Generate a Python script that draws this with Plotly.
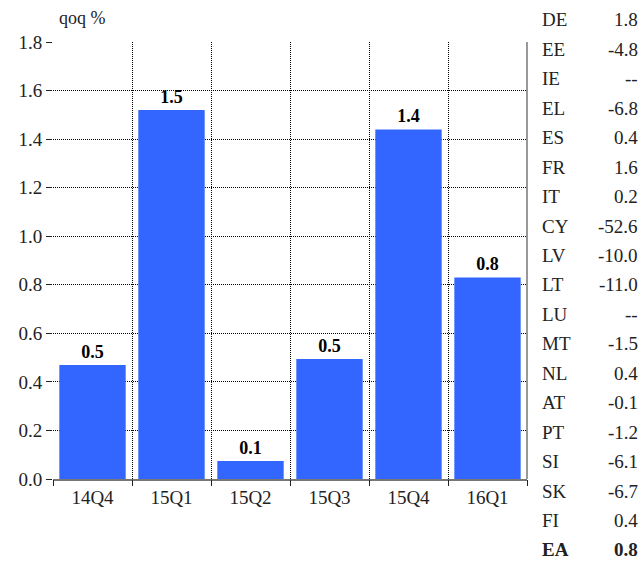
import plotly.graph_objects as go

# Quarterly GDP growth, quarter-on-quarter %
quarters = ["14Q4", "15Q1", "15Q2", "15Q3", "15Q4", "16Q1"]
growth = [0.47, 1.52, 0.074, 0.494, 1.44, 0.83]

# Latest figures by country
countries = ["DE", "EE", "IE", "EL", "ES", "FR", "IT", "CY", "LV", "LT",
             "LU", "MT", "NL", "AT", "PT", "SI", "SK", "FI", "EA"]
country_values = ["1.8", "-4.8", "--", "-6.8", "0.4", "1.6", "0.2", "-52.6", "-10.0",
                  "-11.0", "--", "-1.5", "0.4", "-0.1", "-1.2", "-6.1", "-6.7", "0.4", "0.8"]

y_ticks = [0.0, 0.2, 0.4, 0.6, 0.8, 1.0, 1.2, 1.4, 1.6, 1.8]

FONT = "Liberation Serif"
W, H = 643, 563
ML, MR, MT, MB = 53, 116, 42, 84
PW, PH = W - ML - MR, H - MT - MB

xs = list(range(len(quarters)))
bounds = [i - 0.5 for i in range(len(quarters) + 1)]

fig = go.Figure()
fig.add_trace(go.Bar(
    x=xs, y=growth,
    marker=dict(color="#3366FF", line=dict(width=0)),
    text=[f"{v:.1f}" for v in growth],
    texttemplate="<b>%{text}</b>",
    textposition="outside",
    textfont=dict(family=FONT, size=18, color="black"),
    cliponaxis=False,
    showlegend=False,
    hoverinfo="skip",
))
# invisible trace carrying the boundary grid axis
fig.add_trace(go.Scatter(x=[bounds[0], bounds[-1]], y=[0, 0], xaxis="x2",
                         mode="lines", line=dict(width=0), showlegend=False,
                         hoverinfo="skip"))

fig.update_layout(
    width=W, height=H,
    margin=dict(l=ML, r=MR, t=MT, b=MB, autoexpand=False),
    paper_bgcolor="white", plot_bgcolor="white",
    bargap=0.16,
    font=dict(family=FONT, size=18, color="#222"),
    xaxis=dict(
        range=[bounds[0], bounds[-1]],
        tickvals=xs, ticktext=quarters,
        showgrid=False, zeroline=False, automargin=False,
        showline=True, linecolor="#777", linewidth=1.5,
        ticks="", tickfont=dict(family=FONT, size=19, color="#222"),
    ),
    xaxis2=dict(
        range=[bounds[0], bounds[-1]],
        overlaying="x", side="bottom", anchor="y",
        tickvals=bounds, showticklabels=False, automargin=False,
        showgrid=True, gridcolor="black", griddash="1px,1px", gridwidth=1,
        zeroline=False, showline=False,
        ticks="outside", ticklen=6, tickcolor="#222",
    ),
    yaxis=dict(
        range=[0, 1.8],
        tickvals=y_ticks, ticktext=[f"{v:.1f}" for v in y_ticks],
        showgrid=True, gridcolor="black", griddash="1px,1px", gridwidth=1,
        zeroline=False, showline=False, automargin=False,
        ticks="outside", ticklen=6, tickcolor="#222",
        tickfont=dict(family=FONT, size=19, color="#222"),
    ),
)

# solid right-hand frame edge
fig.add_shape(type="line", xref="paper", yref="paper", x0=1, x1=1, y0=0, y1=1,
              line=dict(color="#777", width=1.5))

fig.add_annotation(text="qoq %", xref="paper", yref="paper",
                   x=(57 - ML) / PW, y=(H - MB - 18) / PH,
                   xanchor="left", yanchor="middle", showarrow=False,
                   font=dict(family=FONT, size=18, color="#222"))

# country table on the right
row_top, row_step = 20, 29.44
for i, (c, v) in enumerate(zip(countries, country_values)):
    ypx = row_top + row_step * i
    yp = (H - MB - ypx) / PH
    bold = c == "EA"
    c_txt = f"<b>{c}</b>" if bold else c
    v_txt = f"<b>{v}</b>" if bold else v
    fig.add_annotation(text=c_txt, xref="paper", yref="paper",
                       x=(540 - ML) / PW, y=yp, xanchor="left", yanchor="middle",
                       showarrow=False, font=dict(family=FONT, size=19, color="#222"))
    fig.add_annotation(text=v_txt, xref="paper", yref="paper",
                       x=(640 - ML) / PW, y=yp, xanchor="right", yanchor="middle",
                       showarrow=False, font=dict(family=FONT, size=19, color="#222"))

fig.write_html("out.html")
